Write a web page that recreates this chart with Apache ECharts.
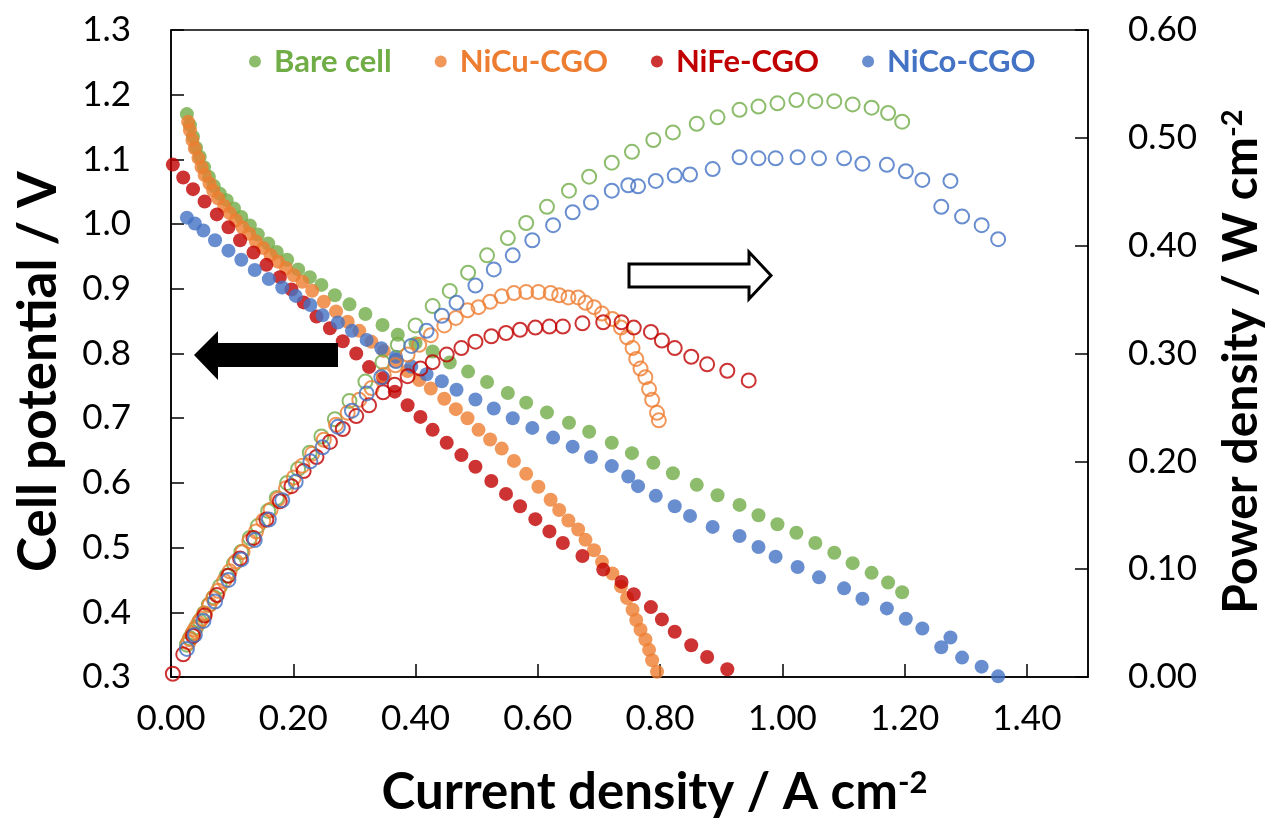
<!DOCTYPE html>
<html>
<head>
<meta charset="utf-8">
<title>Cell potential and power density</title>
<script src="https://cdn.jsdelivr.net/npm/echarts@6/dist/echarts.min.js"></script>
<style>
    html, body { margin: 0; background: #fff; }
    #main { width: 1274px; height: 823px; }
</style>
</head>
<body>
<div id="main"></div>
<script>
    // current density (A cm-2), cell potential (V), power density (W cm-2)
    var bareI = [0.026, 0.031, 0.036, 0.041, 0.047, 0.054, 0.062, 0.070, 0.080, 0.091, 0.103, 0.115, 0.129, 0.142, 0.159, 0.173, 0.190, 0.208, 0.227, 0.246, 0.268, 0.292, 0.318, 0.346, 0.371, 0.400, 0.428, 0.456, 0.486, 0.517, 0.551, 0.581, 0.615, 0.651, 0.684, 0.721, 0.754, 0.789, 0.821, 0.860, 0.894, 0.930, 0.961, 0.992, 1.023, 1.054, 1.085, 1.115, 1.146, 1.173, 1.196];
    var bareV = [1.170, 1.153, 1.135, 1.118, 1.104, 1.088, 1.073, 1.059, 1.047, 1.037, 1.024, 1.011, 0.998, 0.984, 0.970, 0.957, 0.945, 0.930, 0.918, 0.906, 0.890, 0.876, 0.861, 0.844, 0.829, 0.816, 0.803, 0.786, 0.772, 0.756, 0.739, 0.724, 0.709, 0.693, 0.679, 0.662, 0.646, 0.631, 0.615, 0.597, 0.581, 0.566, 0.550, 0.536, 0.523, 0.507, 0.492, 0.476, 0.461, 0.446, 0.431];
    var bareP = [0.030, 0.036, 0.041, 0.046, 0.052, 0.059, 0.067, 0.074, 0.084, 0.094, 0.105, 0.116, 0.129, 0.140, 0.154, 0.166, 0.180, 0.193, 0.208, 0.223, 0.239, 0.256, 0.274, 0.292, 0.308, 0.326, 0.344, 0.358, 0.375, 0.391, 0.407, 0.421, 0.436, 0.451, 0.464, 0.477, 0.487, 0.498, 0.505, 0.513, 0.519, 0.526, 0.529, 0.532, 0.535, 0.534, 0.534, 0.531, 0.528, 0.523, 0.515];

    var nicuI = [0.028, 0.031, 0.035, 0.039, 0.045, 0.050, 0.055, 0.063, 0.069, 0.077, 0.087, 0.096, 0.106, 0.117, 0.128, 0.139, 0.151, 0.163, 0.175, 0.188, 0.201, 0.215, 0.231, 0.250, 0.270, 0.289, 0.308, 0.328, 0.348, 0.367, 0.387, 0.406, 0.425, 0.447, 0.466, 0.485, 0.503, 0.522, 0.541, 0.561, 0.581, 0.601, 0.621, 0.635, 0.650, 0.666, 0.678, 0.692, 0.705, 0.722, 0.736, 0.746, 0.755, 0.761, 0.768, 0.776, 0.782, 0.787, 0.795, 0.798];
    var nicuV = [1.158, 1.145, 1.130, 1.117, 1.102, 1.088, 1.076, 1.063, 1.052, 1.040, 1.028, 1.017, 1.006, 0.995, 0.985, 0.973, 0.963, 0.952, 0.942, 0.932, 0.921, 0.911, 0.897, 0.880, 0.865, 0.849, 0.835, 0.818, 0.804, 0.788, 0.773, 0.759, 0.746, 0.730, 0.714, 0.700, 0.682, 0.667, 0.653, 0.634, 0.614, 0.594, 0.574, 0.558, 0.542, 0.528, 0.512, 0.496, 0.478, 0.460, 0.440, 0.422, 0.404, 0.388, 0.373, 0.358, 0.342, 0.326, 0.308, 0.298];
    var nicuP = [0.032, 0.035, 0.040, 0.044, 0.050, 0.054, 0.059, 0.067, 0.073, 0.080, 0.089, 0.098, 0.107, 0.116, 0.126, 0.135, 0.145, 0.155, 0.165, 0.175, 0.185, 0.196, 0.207, 0.220, 0.234, 0.245, 0.257, 0.268, 0.280, 0.289, 0.299, 0.308, 0.317, 0.326, 0.333, 0.340, 0.343, 0.348, 0.353, 0.356, 0.357, 0.357, 0.356, 0.354, 0.352, 0.352, 0.347, 0.343, 0.337, 0.332, 0.324, 0.315, 0.305, 0.295, 0.286, 0.278, 0.267, 0.257, 0.245, 0.238];

    var nifeI = [0.003, 0.020, 0.036, 0.055, 0.075, 0.094, 0.113, 0.135, 0.156, 0.178, 0.197, 0.217, 0.238, 0.260, 0.281, 0.303, 0.324, 0.347, 0.366, 0.387, 0.408, 0.428, 0.451, 0.475, 0.498, 0.524, 0.548, 0.571, 0.596, 0.619, 0.641, 0.673, 0.707, 0.737, 0.757, 0.785, 0.803, 0.824, 0.851, 0.877, 0.910, 0.945];
    var nifeV = [1.092, 1.072, 1.054, 1.035, 1.015, 0.995, 0.975, 0.956, 0.937, 0.918, 0.899, 0.879, 0.857, 0.839, 0.819, 0.800, 0.779, 0.762, 0.741, 0.720, 0.702, 0.682, 0.662, 0.643, 0.625, 0.603, 0.583, 0.564, 0.544, 0.525, 0.507, 0.487, 0.466, 0.447, 0.428, 0.408, 0.389, 0.370, 0.349, 0.331, 0.312, 0.291];
    var nifeP = [0.003, 0.021, 0.038, 0.057, 0.076, 0.094, 0.110, 0.129, 0.146, 0.163, 0.177, 0.191, 0.204, 0.218, 0.230, 0.242, 0.252, 0.264, 0.271, 0.279, 0.286, 0.292, 0.299, 0.305, 0.311, 0.316, 0.319, 0.322, 0.324, 0.325, 0.325, 0.328, 0.329, 0.329, 0.324, 0.320, 0.312, 0.305, 0.297, 0.290, 0.284, 0.275];

    var nicoI = [0.026, 0.039, 0.053, 0.072, 0.094, 0.115, 0.137, 0.160, 0.182, 0.204, 0.228, 0.248, 0.273, 0.296, 0.320, 0.344, 0.368, 0.393, 0.418, 0.443, 0.467, 0.498, 0.528, 0.559, 0.591, 0.625, 0.657, 0.687, 0.721, 0.748, 0.764, 0.793, 0.824, 0.849, 0.886, 0.930, 0.961, 0.989, 1.025, 1.060, 1.101, 1.131, 1.171, 1.202, 1.229, 1.260, 1.275, 1.294, 1.326, 1.353];
    var nicoV = [1.010, 1.001, 0.990, 0.975, 0.959, 0.945, 0.929, 0.915, 0.902, 0.889, 0.875, 0.859, 0.848, 0.835, 0.821, 0.808, 0.795, 0.780, 0.768, 0.757, 0.744, 0.729, 0.715, 0.700, 0.685, 0.670, 0.656, 0.640, 0.626, 0.610, 0.595, 0.580, 0.564, 0.549, 0.532, 0.518, 0.501, 0.486, 0.470, 0.454, 0.437, 0.421, 0.406, 0.390, 0.375, 0.346, 0.361, 0.330, 0.316, 0.301];
    var nicoP = [0.026, 0.039, 0.052, 0.070, 0.090, 0.109, 0.127, 0.146, 0.164, 0.181, 0.200, 0.213, 0.232, 0.247, 0.263, 0.278, 0.293, 0.307, 0.321, 0.335, 0.347, 0.363, 0.378, 0.391, 0.405, 0.419, 0.431, 0.440, 0.451, 0.456, 0.455, 0.460, 0.465, 0.466, 0.471, 0.482, 0.481, 0.481, 0.482, 0.481, 0.481, 0.476, 0.475, 0.469, 0.461, 0.436, 0.460, 0.427, 0.419, 0.406];

    var names = ['Bare cell', 'NiCu-CGO', 'NiFe-CGO', 'NiCo-CGO'];
    var colors = ['#70AD47', '#ED7D31', '#C00000', '#4472C4'];
    var currents = [bareI, nicuI, nifeI, nicoI];
    var potentials = [bareV, nicuV, nifeV, nicoV];
    var powers = [bareP, nicuP, nifeP, nicoP];

    var FONT = 'Lato';

    function pairs(xs, ys) {
        return xs.map(function (x, i) { return [x, ys[i]]; });
    }

    var series = [];
    for (var i = 0; i < names.length; i++) {
        series.push({
            name: names[i], type: 'scatter', yAxisIndex: 0,
            symbol: 'circle', symbolSize: 14,
            itemStyle: {color: colors[i]},
            data: pairs(currents[i], potentials[i])
        });
    }
    for (var j = 0; j < names.length; j++) {
        series.push({
            name: names[j] + ' power', type: 'scatter', yAxisIndex: 1,
            symbol: 'circle', symbolSize: 14,
            itemStyle: {color: 'rgba(0,0,0,0)', borderColor: colors[j], borderWidth: 2},
            data: pairs(currents[j], powers[j])
        });
    }

    var axisLine = {show: true, lineStyle: {color: '#000', width: 1.5}};
    var axisTick = {show: true, inside: true, length: 13, lineStyle: {color: '#000', width: 1.5}};
    var labelStyle = {color: '#000', fontSize: 35, fontFamily: FONT};
    function nameStyle(size, pad) {
        return {
            color: '#000', fontSize: size, fontWeight: 'bold', fontFamily: FONT, padding: pad,
            rich: {sup: {color: '#000', fontSize: Math.round(size * 0.6), fontWeight: 'bold', fontFamily: FONT, verticalAlign: 'top'}}
        };
    }

    var myChart = echarts.init(document.getElementById('main'));
    var option = {
        backgroundColor: '#fff',
        animation: false,
        grid: {left: 171, right: 184, top: 30, bottom: 146, show: true, borderColor: '#000', borderWidth: 1.5},
        legend: {
            top: 41, left: 244, itemGap: 43, itemWidth: 12, itemHeight: 12,
            icon: 'circle',
            textStyle: {fontSize: 31, fontWeight: 'bold', fontFamily: FONT, padding: [0, 0, 0, 8]},
            data: names.map(function (n, k) {
                return {name: n, textStyle: {color: colors[k]}};
            })
        },
        xAxis: {
            type: 'value', min: 0, max: 1.5, interval: 0.2,
            name: 'Current density / A cm{sup|-2}', nameLocation: 'middle', nameGap: 90,
            nameTextStyle: nameStyle(51, [0, 0, 0, 50]),
            axisLine: axisLine, axisTick: axisTick, splitLine: {show: false},
            axisLabel: Object.assign({margin: 24, showMaxLabel: false, formatter: function (v) { return v.toFixed(2); }}, labelStyle)
        },
        yAxis: [{
            type: 'value', min: 0.3, max: 1.3, interval: 0.1, position: 'left',
            name: 'Cell potential / V', nameLocation: 'middle', nameRotate: 90, nameGap: 106,
            nameTextStyle: nameStyle(53, [0, 36, 0, 0]),
            axisLine: axisLine, axisTick: axisTick, splitLine: {show: false},
            axisLabel: Object.assign({margin: 40, formatter: function (v) { return v.toFixed(1); }}, labelStyle)
        }, {
            type: 'value', min: 0, max: 0.6, interval: 0.1, position: 'right',
            name: 'Power density / W cm{sup|-2}', nameLocation: 'middle', nameRotate: 90, nameGap: 130,
            nameTextStyle: nameStyle(48, [0, 16, 0, 0]),
            axisLine: axisLine, axisTick: axisTick, splitLine: {show: false},
            axisLabel: Object.assign({margin: 40, formatter: function (v) { return v.toFixed(2); }}, labelStyle)
        }],
        graphic: [{
            type: 'polygon', z: 100,
            shape: {points: [[194, 355], [218, 331], [218, 343], [338, 343], [338, 367], [218, 367], [218, 380]]},
            style: {fill: '#000'}
        }, {
            type: 'polygon', z: 100,
            shape: {points: [[629, 264], [749, 264], [749, 252], [771, 275.5], [749, 299], [749, 287], [629, 287]]},
            style: {fill: '#fff', stroke: '#000', lineWidth: 3}
        }],
        series: series
    };
    myChart.setOption(option);
</script>
</body>
</html>
